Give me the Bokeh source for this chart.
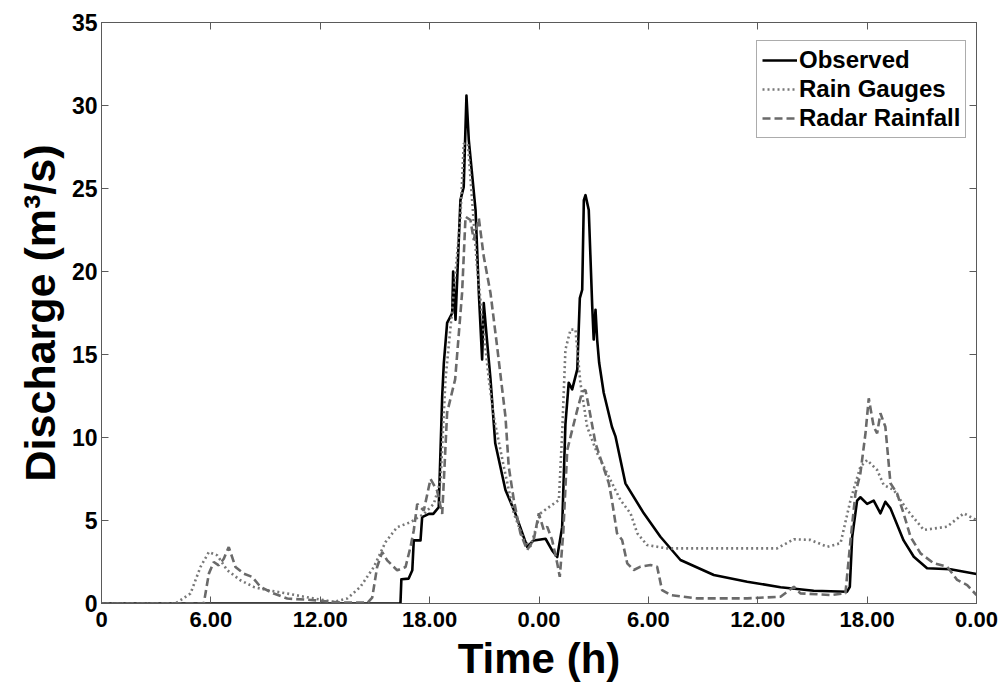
from bokeh.plotting import figure
from bokeh.models import Range1d, LinearAxis, FixedTicker, Legend, LegendItem
from bokeh.embed import file_html
from bokeh.resources import INLINE

# ---- data (hours from start, discharge m3/s) ----
obs_t = [0, 16.4, 16.45, 16.85, 17.05, 17.13, 17.5, 17.59, 17.96, 18.2,
         18.5, 18.69, 18.78, 18.96, 19.24, 19.29, 19.42, 19.69, 19.87, 20.02,
         20.15, 20.52, 20.7, 20.88, 20.97, 21.16, 21.34, 21.6, 22.16, 22.7,
         23.35, 23.71, 24.36, 24.72, 25.0, 25.27, 25.45, 25.63, 25.82, 26.1,
         26.24, 26.37, 26.46, 26.55, 26.73, 26.92, 27.0, 27.1, 27.19, 27.3,
         27.55, 28.0, 28.2, 28.74, 29.75, 30.66, 31.76, 33.59, 35.42, 37.25,
         39.07, 40.9, 41.05, 41.18, 41.45, 41.63, 42.0, 42.36, 42.73, 43.0,
         43.28, 44.0, 44.56, 45.29, 46.57, 48.0]
obs_q = [0, 0, 1.46, 1.5, 2.0, 3.8, 3.8, 5.2, 5.4, 5.4,
         5.8, 12.5, 14.5, 16.9, 17.5, 20.0, 17.1, 24.3, 25.1, 30.6,
         27.9, 23.7, 18.7, 14.7, 18.1, 15.7, 13.5, 9.65, 6.84, 5.43,
         3.42, 3.8, 3.9, 3.2, 2.8, 4.6, 10.8, 13.3, 12.9, 14.1,
         18.4, 18.9, 24.3, 24.6, 23.7, 17.9, 15.9, 17.7, 15.9, 14.5,
         12.7, 10.65, 10.05, 7.24, 5.43, 4.02, 2.62, 1.72, 1.31, 0.98,
         0.77, 0.71, 1.0, 4.0, 6.2, 6.4, 6.0, 6.2, 5.43, 6.13,
         5.73, 3.8, 2.82, 2.12, 2.06, 1.78]

gauge_t = [0, 4.06, 4.88, 5.43, 5.89, 6.35, 6.9, 7.62, 8.35, 9.09,
           10.19, 11.65, 12.74, 13.48, 14.2, 14.94, 15.58, 16.22, 16.95, 17.68,
           18.23, 18.6, 18.87, 19.24, 19.69, 19.87, 20.1, 20.33, 20.6, 20.97,
           21.25, 21.52, 22.07, 22.62, 23.17, 23.53, 24.08, 24.45, 25.09, 25.27,
           25.45, 25.73, 26.0, 26.27, 26.64, 27.19, 27.92, 28.47, 29.02, 29.39,
           29.93, 31.03, 33.59, 37.06, 37.98, 38.89, 39.81, 40.54, 41.09, 41.63,
           42.0, 42.55, 42.91, 43.46, 44.2, 45.11, 46.39, 47.3, 48]
gauge_q = [0, 0, 0.6, 2.2, 3.1, 2.9, 2.0, 1.4, 1.0, 0.8,
           0.6, 0.3, 0.1, 0.3, 1.0, 2.2, 3.7, 4.6, 4.9, 5.4,
           6.0, 7.4, 13.5, 17.7, 23.3, 27.7, 27.7, 24.3, 20.3, 16.3,
           13.5, 11.25, 8.24, 5.43, 3.83, 3.42, 5.43, 5.73, 6.23, 10.25,
           15.3, 16.5, 16.5, 13.3, 10.65, 9.05, 7.44, 6.23, 5.43, 4.23,
           3.52, 3.32, 3.32, 3.32, 3.87, 3.83, 3.42, 3.63, 6.23, 8.24,
           8.64, 8.04, 7.14, 6.84, 5.63, 4.43, 4.63, 5.43, 5.03]

radar_t = [0, 5.61, 5.89, 6.16, 6.43, 6.71, 6.98, 7.35, 7.81, 8.27,
           8.72, 9.45, 10.19, 11.65, 13.11, 14.6, 14.85, 15.12, 15.4, 15.67,
           16.22, 16.68, 16.95, 17.13, 17.32, 17.68, 18.05, 18.41, 18.69, 18.78,
           18.96, 19.4, 19.78, 19.97, 20.24, 20.42, 20.7, 20.97, 21.34, 21.7,
           22.16, 22.34, 22.62, 22.98, 23.35, 23.71, 23.99, 24.26, 24.45, 24.72,
           25.0, 25.14, 25.33, 25.55, 25.82, 26.1, 26.37, 26.55, 26.73, 27.1,
           27.46, 27.83, 28.0, 28.28, 28.56, 28.84, 29.2, 29.57, 30.12, 30.48,
           30.75, 31.21, 32.68, 35.42, 37.25, 37.98, 38.34, 39.99, 40.81, 41.09,
           41.36, 41.63, 41.91, 42.09, 42.36, 42.55, 42.73, 43.0, 43.28, 43.64,
           44.0, 44.38, 44.93, 45.66, 46.39, 46.94, 47.49, 48]
radar_q = [0, 0, 1.8, 2.5, 2.3, 2.7, 3.4, 2.2, 1.8, 1.6,
           1.0, 0.6, 0.3, 0.2, 0.05, 0.05, 0.35, 2.2, 3.1, 2.6,
           2.0, 2.2, 3.4, 4.4, 6.0, 5.6, 7.5, 6.8, 5.4, 7.4,
           11.5, 13.5, 18.7, 23.3, 23.1, 21.9, 23.2, 20.9, 18.7, 15.5,
           11.25, 8.24, 6.23, 4.23, 3.22, 3.83, 5.43, 4.43, 4.63, 3.83,
           2.42, 1.61, 4.23, 9.25, 10.45, 11.66, 12.76, 12.86, 11.86, 9.65,
           8.45, 7.24, 6.23, 4.23, 3.83, 2.42, 2.02, 2.22, 2.32, 2.22,
           0.81, 0.51, 0.31, 0.31, 0.41, 1.01, 0.61, 0.51, 0.61, 3.83,
           6.64, 7.84, 10.25, 12.36, 10.65, 10.25, 11.46, 10.65, 7.24, 6.64,
           5.43, 4.02, 3.02, 2.42, 2.22, 1.42, 1.11, 0.51]

x_ticks = [0, 6, 12, 18, 24, 30, 36, 42, 48]
x_tick_labels = ["0", "6.00", "12.00", "18.00", "0.00", "6.00", "12.00", "18.00", "0.00"]
y_ticks = [0, 5, 10, 15, 20, 25, 30, 35]

series_names = ["Observed", "Rain Gauges", "Radar Rainfall"]

FONT = "Liberation Sans"
AX = "#5a5a5a"

p = figure(width=1000, height=684, output_backend="svg", toolbar_location=None,
           x_range=Range1d(0, 48), y_range=Range1d(0, 35),
           min_border_left=101, min_border_right=24, min_border_top=22, min_border_bottom=81)
p.xgrid.visible = False
p.ygrid.visible = False
p.outline_line_color = AX
p.outline_line_width = 1
p.background_fill_color = "white"
p.border_fill_color = "white"

r_obs = p.line(obs_t, obs_q, line_color="black", line_width=2.6, line_join="round")
r_gauge = p.line(gauge_t, gauge_q, line_color="#787878", line_width=2.6, line_dash="2 3")
r_radar = p.line(radar_t, radar_q, line_color="#6a6a6a", line_width=2.6, line_dash="8 4")

def style_axis(ax, show_labels=True):
    ax.axis_line_color = AX
    ax.major_tick_line_color = AX
    ax.major_tick_in = 7
    ax.major_tick_out = 0
    ax.minor_tick_line_color = None
    ax.major_label_text_font = FONT
    ax.major_label_text_font_style = "bold"
    ax.major_label_text_color = "black"
    if not show_labels:
        ax.major_label_text_font_size = "0px"
        ax.major_label_text_alpha = 0

xa = p.xaxis[0]
xa.ticker = FixedTicker(ticks=x_ticks)
xa.major_label_overrides = {t: s for t, s in zip(x_ticks, x_tick_labels)}
style_axis(xa)
xa.major_label_text_font_size = "22px"
xa.major_label_text_line_height = 1.0
xa.major_label_standoff = 8
xa.axis_label = "Time (h)"
xa.axis_label_text_font = FONT
xa.axis_label_text_font_style = "bold"
xa.axis_label_text_font_size = "42px"
xa.axis_label_text_line_height = 1.0
xa.axis_label_text_color = "black"
xa.axis_label_standoff = 5

ya = p.yaxis[0]
ya.ticker = FixedTicker(ticks=y_ticks)
style_axis(ya)
ya.major_label_text_font_size = "23px"
ya.major_label_standoff = 4
ya.axis_label = "Discharge (m\u00b3/s)"
ya.axis_label_text_font = FONT
ya.axis_label_text_font_style = "bold"
ya.axis_label_text_font_size = "43px"
ya.axis_label_text_color = "black"
ya.axis_label_standoff = 5

top = LinearAxis(ticker=FixedTicker(ticks=x_ticks))
style_axis(top, False)
p.add_layout(top, "above")
right = LinearAxis(ticker=FixedTicker(ticks=y_ticks))
style_axis(right, False)
p.add_layout(right, "right")

legend = Legend(items=[LegendItem(label=series_names[0], renderers=[r_obs]),
                       LegendItem(label=series_names[1], renderers=[r_gauge]),
                       LegendItem(label=series_names[2], renderers=[r_radar])],
                location=(655, 465))
legend.label_text_font = FONT
legend.label_text_font_style = "bold"
legend.label_text_font_size = "24px"
legend.label_text_line_height = 1.0
legend.label_text_color = "black"
legend.glyph_width = 35
legend.glyph_height = 24
legend.label_height = 24
legend.label_standoff = 2
legend.spacing = 1
legend.padding = 5
legend.margin = 0
legend.border_line_color = AX
legend.border_line_width = 1
legend.background_fill_color = "white"
legend.background_fill_alpha = 1
p.add_layout(legend, "center")

open("out.html", "w").write(file_html(p, INLINE))
